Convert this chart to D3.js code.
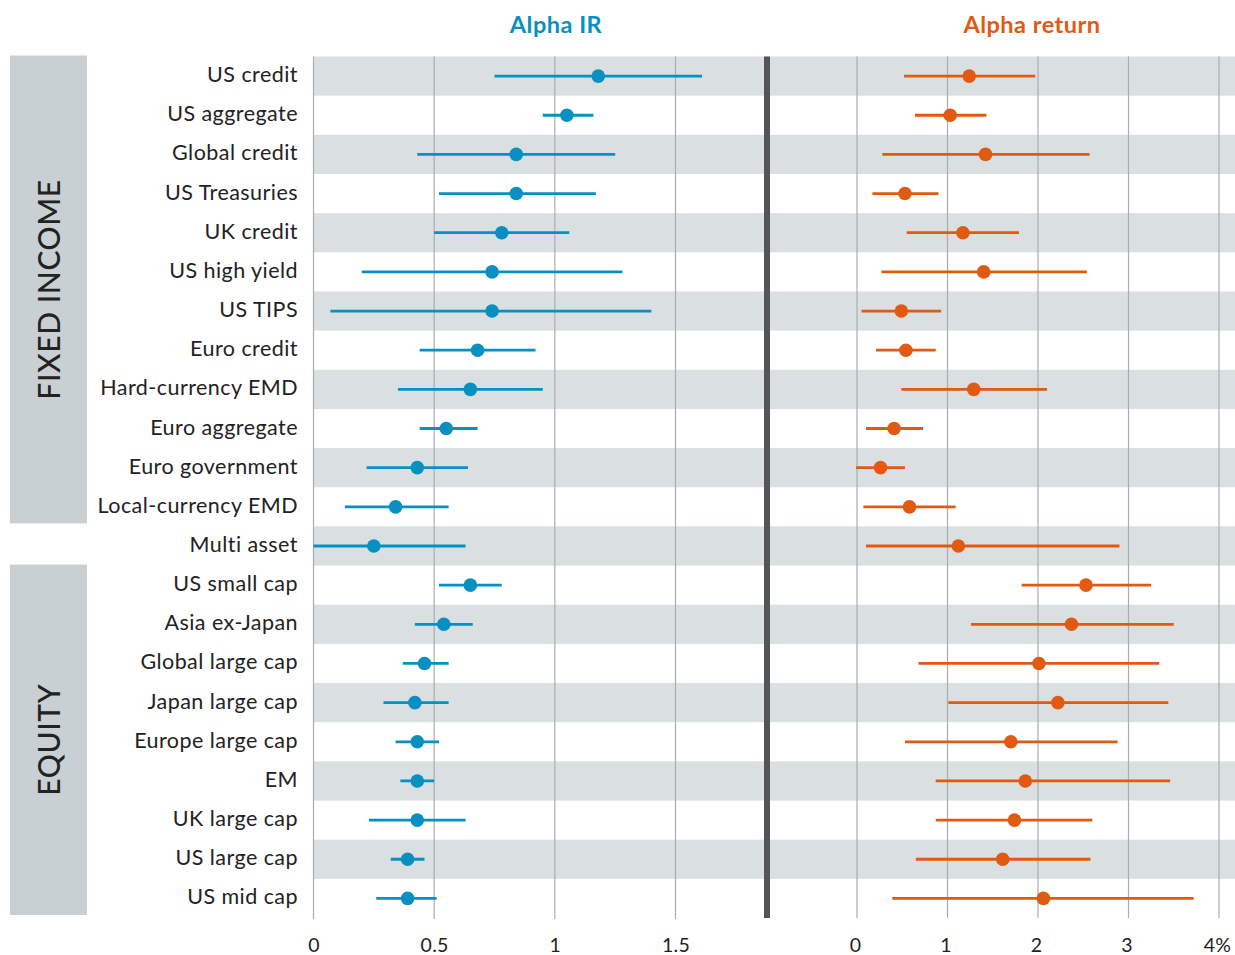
<!DOCTYPE html>
<html>
<head>
<meta charset="utf-8">
<script src="https://cdn.jsdelivr.net/npm/d3@7"></script>
<style>
  html, body { margin: 0; padding: 0; background: #fff; }
  svg { display: block; font-family: Lato, "Open Sans", sans-serif; }
</style>
</head>
<body>
<svg id="chart" width="1235" height="955"></svg>
<script>
// ---- data ----
const categories = ["US credit","US aggregate","Global credit","US Treasuries","UK credit","US high yield","US TIPS","Euro credit","Hard-currency EMD","Euro aggregate","Euro government","Local-currency EMD","Multi asset","US small cap","Asia ex-Japan","Global large cap","Japan large cap","Europe large cap","EM","UK large cap","US large cap","US mid cap"];

const irLow  = [0.75,0.95,0.43,0.52,0.50,0.20,0.07,0.44,0.35,0.44,0.22,0.13,0.00,0.52,0.42,0.37,0.29,0.34,0.36,0.23,0.32,0.26];
const irMid  = [1.18,1.05,0.84,0.84,0.78,0.74,0.74,0.68,0.65,0.55,0.43,0.34,0.25,0.65,0.54,0.46,0.42,0.43,0.43,0.43,0.39,0.39];
const irHigh = [1.61,1.16,1.25,1.17,1.06,1.28,1.40,0.92,0.95,0.68,0.64,0.56,0.63,0.78,0.66,0.56,0.56,0.52,0.50,0.63,0.46,0.51];

const retLow  = [0.52,0.64,0.28,0.17,0.55,0.27,0.05,0.21,0.49,0.10,-0.01,0.07,0.10,1.82,1.26,0.68,1.01,0.53,0.87,0.87,0.65,0.39];
const retMid  = [1.24,1.03,1.42,0.53,1.17,1.40,0.49,0.54,1.29,0.41,0.26,0.58,1.12,2.53,2.37,2.01,2.22,1.70,1.86,1.74,1.61,2.06];
const retHigh = [1.97,1.43,2.57,0.90,1.79,2.54,0.93,0.87,2.10,0.73,0.53,1.09,2.90,3.25,3.50,3.34,3.44,2.88,3.46,2.60,2.58,3.72];

const irTicks = [0, 0.5, 1, 1.5];
const irTickLabels = ["0", "0.5", "1", "1.5"];
const retTicks = [0, 1, 2, 3, 4];
const retTickLabels = ["0", "1", "2", "3", "4%"];

const groups = [
  {name: "FIXED INCOME", first: "US credit", last: "Local-currency EMD"},
  {name: "EQUITY", first: "US small cap", last: "US mid cap"}
];
const titles = ["Alpha IR", "Alpha return"];

// ---- styles ----
const BLUE = "#0790c1", ORANGE = "#e05a12";
const BAND = "#dadfe2", GROUPBOX = "#c9d0d3", GRID = "#a9adb1", DIVIDER = "#555555", TEXT = "#222222";

const svg = d3.select("#chart");
const plotTop = 56.5, plotBottom = 918;
const y = d3.scaleBand().domain(categories).range([plotTop, plotBottom]).padding(0);
const xL = d3.scaleLinear().domain([0, 1.5]).range([313.5, 675.5]);
const xR = d3.scaleLinear().domain([0, 4]).range([857, 1219]);
const divX = 767;

// bands
svg.append("g").selectAll("rect").data(categories.filter((d,i)=>i%2===0)).join("rect")
  .attr("x", 313.5).attr("width", 1235 - 313.5)
  .attr("y", d => y(d)).attr("height", y.bandwidth())
  .attr("fill", BAND);

// group boxes
const gb = svg.append("g");
groups.forEach(g => {
  const y0 = y(g.first) - 1, y1 = y(g.last) + y.bandwidth() - 3;
  gb.append("rect").attr("x", 10).attr("width", 77).attr("y", y0).attr("height", y1 - y0).attr("fill", GROUPBOX);
  gb.append("text")
    .attr("transform", `translate(48,${(y0 + y1) / 2}) rotate(-90)`)
    .attr("text-anchor", "middle").attr("dominant-baseline", "central")
    .attr("font-size", 30).attr("font-weight", 500).attr("letter-spacing", 0.6).attr("fill", TEXT)
    .text(g.name);
});

// gridlines
const grid = svg.append("g").attr("stroke", GRID).attr("stroke-width", 1.2);
irTicks.forEach(t => grid.append("line").attr("x1", xL(t)).attr("x2", xL(t)).attr("y1", plotTop).attr("y2", plotBottom + 1));
retTicks.forEach(t => grid.append("line").attr("x1", xR(t)).attr("x2", xR(t)).attr("y1", plotTop).attr("y2", plotBottom));

// divider
svg.append("rect").attr("x", divX - 3).attr("width", 6).attr("y", plotTop).attr("height", plotBottom - plotTop).attr("fill", DIVIDER);

// category labels
svg.append("g").selectAll("text").data(categories).join("text")
  .attr("x", 298).attr("y", d => y(d) + y.bandwidth() / 2 - 2)
  .attr("text-anchor", "end").attr("dominant-baseline", "central")
  .attr("font-size", 21.5).attr("letter-spacing", 0.45).attr("fill", TEXT).text(d => d);

// error bars + dots
function drawSeries(x, lows, mids, highs, color) {
  const g = svg.append("g");
  g.selectAll("line").data(categories).join("line")
    .attr("x1", (d,i) => x(lows[i])).attr("x2", (d,i) => x(highs[i]))
    .attr("y1", d => y(d) + y.bandwidth() / 2).attr("y2", d => y(d) + y.bandwidth() / 2)
    .attr("stroke", color).attr("stroke-width", 2.8);
  g.selectAll("circle").data(categories).join("circle")
    .attr("cx", (d,i) => x(mids[i])).attr("cy", d => y(d) + y.bandwidth() / 2)
    .attr("r", 6.8).attr("fill", color);
}
drawSeries(xL, irLow, irMid, irHigh, BLUE);
drawSeries(xR, retLow, retMid, retHigh, ORANGE);

// axes
const axL = d3.axisBottom(xL).tickValues(irTicks).tickSize(0).tickPadding(0)
  .tickFormat((d,i) => irTickLabels[i]);
const axR = d3.axisBottom(xR).tickValues(retTicks).tickSize(0).tickPadding(0)
  .tickFormat((d,i) => retTickLabels[i]);
[[axL, 0], [axR, -2]].forEach(([ax, dx]) => {
  const g = svg.append("g").attr("transform", `translate(${dx},945)`).call(ax);
  g.select(".domain").remove();
  g.selectAll("text").attr("font-size", 19.5).attr("font-family", "Lato, sans-serif")
    .attr("letter-spacing", 0.3).attr("fill", TEXT).attr("dy", "0.35em").attr("y", 0);
});

// titles
svg.append("text").attr("x", 556).attr("y", 24).attr("text-anchor", "middle").attr("dominant-baseline", "central")
  .attr("font-size", 23.5).attr("font-weight", 700).attr("letter-spacing", 0.5).attr("fill", BLUE).text(titles[0]);
svg.append("text").attr("x", 1032).attr("y", 24).attr("text-anchor", "middle").attr("dominant-baseline", "central")
  .attr("font-size", 23.5).attr("font-weight", 700).attr("letter-spacing", 0.5).attr("fill", ORANGE).text(titles[1]);
</script>
</body>
</html>
